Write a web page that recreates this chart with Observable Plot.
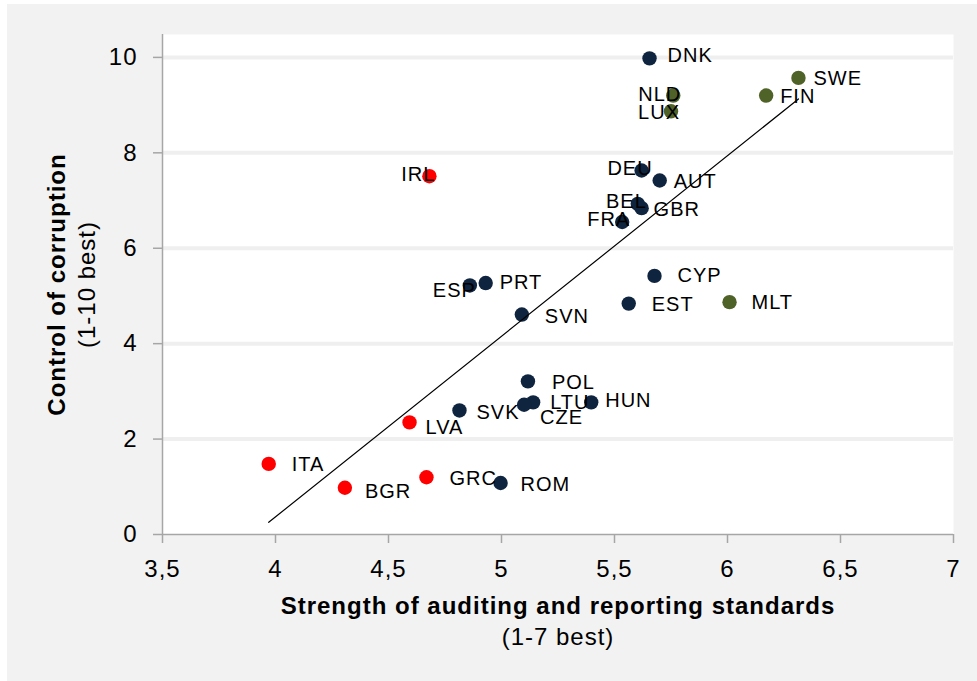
<!DOCTYPE html>
<html><head><meta charset="utf-8">
<script src="https://cdn.jsdelivr.net/npm/d3@7"></script>
<script src="https://cdn.jsdelivr.net/npm/@observablehq/plot@0.6"></script>
<style>
html,body{margin:0;padding:0;background:#fff;}
#box{position:absolute;left:7px;top:4px;width:970px;height:677px;background:#f2f2f2;}
#box svg text{letter-spacing:1px;}
</style></head><body><div id="box"></div>
<script>
// ---- data ----
const codes = ["DNK","NLD","LUX","SWE","FIN","DEU","AUT","BEL","GBR","FRA","IRL","ESP","PRT","SVN","CYP","EST","MLT","POL","LTU","CZE","HUN","SVK","LVA","ITA","BGR","GRC","ROM"];
const auditing = [5.655,5.76,5.75,6.314,6.171,5.62,5.70,5.603,5.62,5.534,4.681,4.86,4.93,5.09,5.677,5.563,6.009,5.117,5.14,5.10,5.397,4.814,4.593,3.970,4.307,4.668,4.996];
const corruption = [9.98,9.20,8.87,9.57,9.20,7.63,7.42,6.93,6.84,6.55,7.51,5.22,5.27,4.61,5.42,4.84,4.87,3.21,2.77,2.72,2.77,2.60,2.35,1.48,0.98,1.20,1.08];
const groups = ["mid","top","top","top","top","mid","mid","mid","mid","mid","low","mid","mid","mid","mid","mid","top","mid","mid","mid","mid","mid","low","low","low","low","mid"];
const groupNames = ["top","mid","low"];
const groupColors = ["#4f6228","#0f243e","#ff0000"];
const xTicks = [3.5,4,4.5,5,5.5,6,6.5,7];
const yTicks = [0,2,4,6,8,10];
const xTitle = "Strength of auditing and reporting standards";
const xSub = "(1-7 best)";
const yTitle = "Control of corruption";
const ySub = "(1-10 best)";

// label placement: side (R = text to the right, L = text ending at dot), dx, dy
const labelPlacement = {
  DNK:["R",18,-3], NLD:["L",8,-1], LUX:["L",9,1], SWE:["R",15,1], FIN:["R",14,1],
  DEU:["L",11,-2], AUT:["R",14,1], BEL:["L",9,-2], GBR:["R",12,1], FRA:["L",8,-2],
  IRL:["L",6,-2], ESP:["L",6,5], PRT:["R",14,0], SVN:["R",23,2], CYP:["R",23,0],
  EST:["R",23,1], MLT:["R",22,0], POL:["R",24,1], LTU:["R",17,0], CZE:["R",16,13],
  HUN:["R",14,-2], SVK:["R",17,2], LVA:["R",16,5], ITA:["R",23,1], BGR:["R",20,4],
  GRC:["R",23,1], ROM:["R",20,2]
};

const data = codes.map((code,i)=>({code, x:auditing[i], y:corruption[i], group:groups[i]}));
const font = "'Liberation Sans', Arial, Helvetica, sans-serif";
const axisGray = "#a6a6a6";

const labelMarks = data.map(d => {
  const [side, dx, dy] = labelPlacement[d.code];
  return Plot.text([d], {x:"x", y:"y", text:"code", textAnchor: side==="L" ? "end" : "start",
    lineAnchor:"middle", dx, dy, fontSize:20, fill:"#000"});
});

const chart = Plot.plot({
  width:970, height:677,
  marginLeft:155, marginRight:24, marginTop:30, marginBottom:147,
  style:{background:"transparent", fontFamily:font, color:"#000", overflow:"visible"},
  x:{domain:[3.5,7]},
  y:{domain:[0,10.48]},
  color:{domain:groupNames, range:groupColors},
  marks:[
    Plot.frame({fill:"white", stroke:"none"}),
    Plot.ruleY(yTicks.filter(v=>v>0), {stroke:"#efefef", strokeWidth:4}),
    Plot.axisX({ticks:xTicks, tickSize:9, tickPadding:16, fontSize:24, stroke:axisGray, strokeWidth:1.5, fill:"#000",
      tickFormat:d=>String(d).replace(".", ","), label:null}),
    Plot.axisY({ticks:yTicks, tickSize:9, tickPadding:16, fontSize:24, stroke:axisGray, strokeWidth:1.5, fill:"#000", label:null}),
    Plot.ruleX([3.5], {stroke:axisGray, strokeWidth:1.5}),
    Plot.ruleY([0], {stroke:axisGray, strokeWidth:1.5}),
    Plot.dot(data, {x:"x", y:"y", r:7.2, fill:"group"}),
    Plot.linearRegressionY(data, {x:"x", y:"y", stroke:"#000", strokeWidth:1.2, ci:0}),
    ...labelMarks,
    Plot.text([xTitle], {text:d=>d, frameAnchor:"bottom", textAnchor:"middle", lineAnchor:"bottom", dy:79, fontSize:24, fontWeight:"bold", fill:"#000"}),
    Plot.text([xSub], {text:d=>d, frameAnchor:"bottom", textAnchor:"middle", lineAnchor:"bottom", dy:110, fontSize:24, fill:"#000"}),
    Plot.text([yTitle], {text:d=>d, frameAnchor:"left", rotate:-90, textAnchor:"middle", lineAnchor:"bottom", dx:-98, fontSize:24, fontWeight:"bold", fill:"#000"}),
    Plot.text([ySub], {text:d=>d, frameAnchor:"left", rotate:-90, textAnchor:"middle", lineAnchor:"bottom", dx:-68, fontSize:24, fill:"#000"})
  ]
});
document.getElementById("box").appendChild(chart);
</script>
</body></html>
